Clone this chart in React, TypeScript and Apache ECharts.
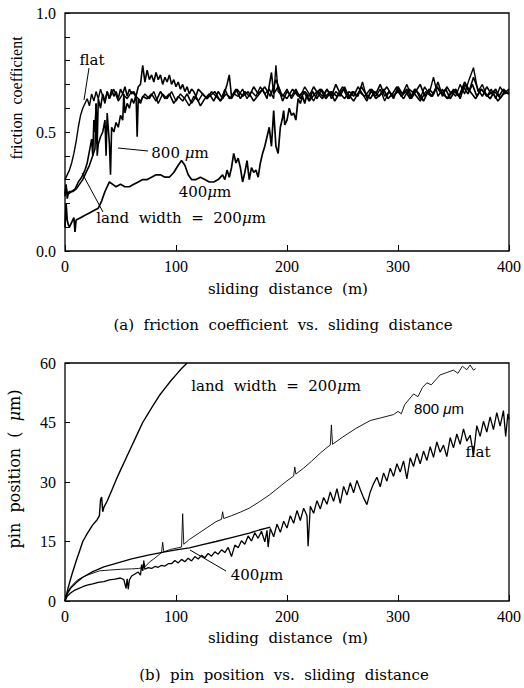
import React, { useEffect, useRef } from 'react';
import * as echarts from 'echarts';

// ---------- data: (a) friction coefficient vs sliding distance ----------
const distanceTicks = [0, 100, 200, 300, 400];
const frictionLabels = [0, 0.5, 1.0];
const pinLabels = [0, 15, 30, 45, 60];

const flatFriction: number[][] = [
  [0,0.30],[2,0.32],[4,0.34],[6,0.37],[8,0.41],[10,0.46],[12,0.52],[14,0.57],[16,0.60],[18,0.62],[20,0.64],[22,0.61],[24,0.66],[26,0.63],[28,0.67],[30,0.64],[32,0.68],[34,0.65],[36,0.62],[38,0.67],[40,0.64],[44,0.68],[48,0.63],[52,0.66],[56,0.64],[60,0.67],[64,0.65],[68,0.63],[72,0.66],[76,0.64],[80,0.67],[84,0.62],[88,0.66],[92,0.64],[96,0.67],[100,0.63],[104,0.66],[108,0.64],[112,0.61],[116,0.65],[120,0.63],[124,0.66],[128,0.64],[132,0.67],[136,0.65],[140,0.63],[144,0.68],[148,0.64],[152,0.66],[156,0.65],[160,0.68],[164,0.64],[168,0.67],[172,0.65],[176,0.69],[180,0.66],[184,0.68],[188,0.64],[190,0.78],[192,0.67],[196,0.65],[200,0.68],[204,0.64],[208,0.67],[212,0.65],[216,0.69],[220,0.66],[224,0.63],[228,0.67],[232,0.65],[236,0.68],[240,0.64],[244,0.67],[248,0.65],[252,0.69],[256,0.64],[260,0.67],[264,0.65],[268,0.71],[272,0.64],[276,0.67],[280,0.65],[284,0.68],[288,0.63],[292,0.67],[296,0.65],[300,0.68],[304,0.66],[308,0.70],[312,0.65],[316,0.68],[320,0.64],[324,0.69],[328,0.66],[332,0.73],[336,0.65],[340,0.68],[344,0.64],[348,0.67],[352,0.65],[356,0.70],[360,0.66],[364,0.72],[368,0.77],[372,0.67],[376,0.70],[380,0.65],[384,0.68],[388,0.64],[392,0.69],[396,0.66],[400,0.67]
];

const w800Friction: number[][] = [
  [0,0.23],[1,0.27],[2,0.24],[4,0.25],[7,0.25],[10,0.26],[13,0.28],[16,0.30],[19,0.33],[22,0.36],[25,0.40],[27,0.43],[28,0.62],[29,0.40],[30,0.45],[32,0.48],[34,0.50],[36,0.55],[37,0.40],[38,0.58],[40,0.45],[41,0.32],[42,0.52],[44,0.50],[46,0.54],[48,0.52],[50,0.57],[52,0.55],[53,0.66],[54,0.58],[56,0.62],[58,0.60],[60,0.64],[62,0.62],[64,0.66],[65,0.48],[66,0.64],[68,0.62],[70,0.65],
  [74,0.64],[78,0.66],[82,0.63],[86,0.67],[90,0.64],[94,0.66],[98,0.62],[102,0.65],[106,0.63],[110,0.66],[114,0.62],[118,0.65],[122,0.61],[126,0.64],[130,0.66],[134,0.63],[138,0.67],[142,0.64],[146,0.70],[148,0.74],[150,0.65],[154,0.68],[158,0.64],[162,0.67],[166,0.65],[170,0.69],[174,0.66],[178,0.68],[182,0.64],[186,0.75],[188,0.66],[192,0.69],[196,0.63],[200,0.67],[204,0.65],[208,0.68],[212,0.64],[216,0.67],[220,0.65],[224,0.69],[228,0.66],[232,0.64],[236,0.68],[240,0.65],[244,0.70],[248,0.66],[252,0.64],[256,0.67],[260,0.65],[264,0.69],[268,0.66],[272,0.63],[276,0.68],[280,0.66],[284,0.70],[288,0.65],[292,0.67],[296,0.64],[300,0.69],[304,0.66],[308,0.68],[312,0.64],[316,0.67],[320,0.70],[324,0.65],[328,0.68],[332,0.66],[336,0.71],[340,0.65],[344,0.69],[348,0.66],[352,0.68],[356,0.64],[360,0.70],[364,0.67],[368,0.73],[372,0.68],[376,0.65],[380,0.69],[384,0.66],[388,0.68],[392,0.64],[396,0.67],[400,0.66]
];

const w200Friction: number[][] = [
  [0,0.24],[1,0.28],[2,0.22],[3,0.24],[6,0.25],[9,0.26],[12,0.29],[15,0.31],[18,0.34],[20,0.37],[22,0.42],[24,0.47],[25,0.40],[26,0.55],[27,0.50],[28,0.62],[29,0.45],[30,0.64],[32,0.60],[34,0.66],[36,0.63],[38,0.67],[40,0.64],[42,0.68],[44,0.65],[46,0.67],[48,0.64],[50,0.68],[52,0.66],[54,0.69],[56,0.65],[58,0.68],[60,0.66],[62,0.67],[64,0.65],[66,0.69],[68,0.70],[70,0.78],[72,0.71],[74,0.76],[76,0.72],[78,0.74],[80,0.71],[82,0.75],[84,0.72],[86,0.74],[88,0.70],[90,0.73],[92,0.71],[94,0.74],[96,0.70],[98,0.72],[100,0.69],[102,0.71],[104,0.68],[106,0.70],[108,0.67],[110,0.69],[112,0.66],[114,0.68],[116,0.67],[118,0.65],[120,0.68],[124,0.66],[128,0.64],
  [130,0.65],[135,0.67],[140,0.63],[145,0.66],[150,0.64],[155,0.68],[160,0.65],[165,0.67],[170,0.63],[175,0.66],[180,0.69],[185,0.65],[190,0.72],[195,0.66],[200,0.64],[205,0.68],[210,0.65],[215,0.67],[220,0.63],[225,0.66],[230,0.68],[235,0.64],[240,0.67],[245,0.65],[250,0.69],[255,0.66],[260,0.63],[265,0.67],[270,0.65],[275,0.68],[280,0.64],[285,0.66],[290,0.69],[295,0.65],[300,0.67],[305,0.64],[310,0.68],[315,0.66],[320,0.63],[325,0.67],[330,0.65],[335,0.69],[340,0.66],[345,0.64],[350,0.68],[355,0.65],[360,0.71],[365,0.67],[370,0.64],[375,0.68],[380,0.65],[385,0.67],[390,0.63],[395,0.66],[400,0.68]
];

const w400Friction: number[][] = [
  [0,0.10],[1,0.20],[2,0.13],[3,0.11],[4,0.10],[6,0.12],[8,0.14],[9,0.08],[10,0.13],[14,0.14],[18,0.15],[22,0.16],[26,0.17],[30,0.18],[33,0.21],[36,0.25],[38,0.27],[40,0.29],[43,0.28],[46,0.27],[50,0.28],[54,0.27],[58,0.27],[62,0.28],[66,0.29],[70,0.30],[74,0.30],[78,0.31],[82,0.32],[86,0.32],[90,0.31],[94,0.31],[98,0.33],[102,0.36],[105,0.38],[108,0.36],[111,0.32],[114,0.30],[118,0.30],[122,0.31],[126,0.30],[130,0.29],[134,0.29],[138,0.30],[142,0.32],[144,0.30],[146,0.34],[148,0.31],[150,0.35],[152,0.41],[154,0.37],[156,0.39],[158,0.35],[160,0.29],[162,0.33],[164,0.38],[166,0.30],[168,0.35],[170,0.33],[172,0.34],[174,0.31],[176,0.37],[178,0.41],[180,0.44],[182,0.48],[184,0.52],[186,0.44],[188,0.59],[190,0.44],[192,0.41],[194,0.52],[196,0.56],[197,0.59],[198,0.53],[200,0.55],[202,0.60],[204,0.57],[206,0.58],[208,0.55],[210,0.64],[212,0.62],[214,0.65],[216,0.62],[218,0.66],[220,0.63],
  [223,0.67],[227,0.64],[231,0.68],[235,0.65],[239,0.67],[243,0.63],[247,0.66],[251,0.68],[255,0.64],[259,0.67],[263,0.65],[267,0.69],[271,0.66],[275,0.64],[279,0.67],[283,0.65],[287,0.68],[291,0.64],[295,0.66],[299,0.69],[303,0.65],[307,0.67],[311,0.64],[315,0.68],[319,0.66],[323,0.63],[327,0.67],[331,0.65],[335,0.69],[339,0.66],[343,0.68],[347,0.64],[351,0.67],[355,0.65],[359,0.69],[363,0.66],[367,0.70],[371,0.65],[375,0.68],[379,0.66],[383,0.64],[387,0.67],[391,0.65],[395,0.68],[399,0.66]
];

// ---------- data: (b) pin position vs sliding distance ----------
const w200Pin: number[][] = [
  [0,0],[3,3.5],[6,6.5],[10,10],[13,12.5],[16,15],[20,17],[25,19.2],[29,20.5],[31,21.5],[32,25.5],[33,26.2],[34,22.5],[35,23.6],[38,25.2],[42,27.8],[46,30.5],[50,33],[55,36],[60,39],[65,42],[70,45],[75,47.3],[80,49.6],[85,51.8],[90,53.6],[95,55.4],[100,57],[105,58.6],[110,60]
];

const w800Pin: number[][] = [
  [0,0],[2,2],[5,3.5],[10,5],[13,5.6],[20,6.5],[31,7.6],[40,7.8],[50,8],[60,8.1],[66,8.2],[70,8.4],[71,10.2],[72,8.6],[76,9.8],[80,10.6],[84,11.5],[87,12.2],[88,14.8],[89,12.4],[95,13],[100,13.3],[105,13.6],[106,22],[107,14.3],[112,15.5],[120,17],[128,18.5],[136,20],[141,20.6],[142,22.5],[143,20.8],[150,21.5],[158,22.4],[166,23.4],[175,25],[184,26.7],[192,28.5],[200,30.3],[206,31.5],[207,33.8],[208,32],[215,33.5],[222,35.2],[230,37.3],[236,38.7],[239,39.3],[240,44.4],[241,39.5],[250,41.3],[262,43.5],[275,45.5],[285,46.2],[296,47],[300,47.8],[303,47.2],[306,49.5],[314,52.2],[318,51.5],[322,53.8],[326,55],[330,54.5],[338,57],[344,57.6],[350,58.2],[354,57.4],[358,59.2],[362,58.3],[365,59.5],[368,58.2],[370,58.6]
];

const w400Pin: number[][] = [
  [0,0],[2,1.8],[5,3.2],[10,4.6],[16,6.0],[25,7.4],[35,8.6],[46,9.5],[60,10.6],[76,11.6],[90,12.4],[100,12.9],[112,13.4],[124,14.2],[136,15.0],[150,16.0],[166,17.1],[175,17.9],[185,18.6]
];

const flatPin: number[][] = [
  [0,0],[2,1.2],[5,2.0],[8,2.6],[12,3.1],[16,3.6],[20,4.0],[25,4.3],[30,4.7],[35,4.9],[40,5.3],[45,5.5],[50,5.8],[53,5.4],[55,3.2],[56,5.6],[57,3.0],[58,5.3],[60,6.3],[63,6.8],[66,7.3],[68,6.5],[69,9.2],[70,7.6],[71,9.5],[72,8.0],[75,8.4],[78,8.2],[81,8.7],[84,8.5],[87,9.0],[90,8.8],[93,9.4],
  [96,9.4],[99,10.2],[102,9.6],[105,10.5],[108,9.9],[111,10.8],[114,10.1],[117,11.2],[120,10.6],[123,11.5],[126,10.9],[129,12.0],[132,11.3],[135,12.4],[138,11.8],[141,12.9],[144,12.2],[147,13.5],[150,11.2],[153,14.1],[156,13.4],[159,15.2],[162,14.3],[165,16.4],[168,15.1],[171,17.2],[174,15.8],[177,17.6],[180,14.9],[182,17.8],[183,13.6],[185,18.3],[188,16.2],[191,19.4],[194,17.3],[197,20.1],[200,18.4],[203,21.5],[206,19.6],[209,22.8],[212,20.3],[215,23.4],[218,21.5],[219,13.8],[221,23.9],[224,22.1],[227,25.3],[230,23.2],[233,26.1],[236,24.4],[239,27.5],[242,25.1],[245,28.3],[248,24.6],[251,28.9],[254,26.7],[257,29.8],[260,27.3],[263,30.4],[266,28.1],[269,26.0],[272,24.3],[275,27.5],[278,29.6],[281,31.2],[284,28.8],[287,32.3],[290,30.2],[293,33.5],[296,31.4],[299,34.6],[302,32.5],[305,35.3],[308,30.8],[311,36.1],[314,33.9],[317,37.2],[320,34.6],[323,37.8],[326,35.4],[329,38.9],[332,36.2],[335,40.1],[338,37.5],[341,39.3],[344,36.4],[347,41.2],[350,38.6],[353,42.1],[356,39.5],[359,43.4],[362,40.3],[365,41.8],[368,36.9],[371,44.2],[374,41.5],[377,45.3],[380,42.6],[383,46.4],[386,43.2],[389,47.5],[392,44.1],[395,48.0],[397,41.5],[399,47.2],[400,45.8]
];

const SERIF = '"DejaVu Serif", serif';
const TICKFONT = '"Liberation Serif", serif';

function mu(prefix: string, size: number, family = SERIF, suffix = 'm') {
  return {
    text: `{a|${prefix}}{b|μ}{a|${suffix}}`,
    rich: {
      a: { fontFamily: family, fontSize: size, fill: '#000' },
      b: { fontFamily: family, fontSize: size, fontStyle: 'italic', fill: '#000' },
    },
  };
}

function buildOption() {
  const axisCommonX = (gridIndex: number) => ({
    type: 'value',
    gridIndex,
    min: 0,
    max: 400,
    interval: 100,
    axisLine: { show: false },
    axisTick: { show: true, inside: true, length: 6, lineStyle: { color: '#000', width: 1 } },
    axisLabel: {
      color: '#000', fontFamily: TICKFONT, fontSize: 16, margin: 7,
      formatter: (v: number) => (distanceTicks.includes(v) ? String(v) : ''),
    },
    splitLine: { show: false },
  });
  const lineSeries = (data: number[][], idx: number, width: number) => ({
    type: 'line',
    xAxisIndex: idx,
    yAxisIndex: idx,
    data,
    showSymbol: false,
    symbol: 'none',
    silent: true,
    lineStyle: { color: '#000', width },
  });
  const txt = (x: number, y: number, style: any, extra: any = {}) => ({
    type: 'text', x, y, silent: true, ...extra,
    style: { fill: '#000', align: 'center', verticalAlign: 'middle', ...style },
  });
  const seg = (x1: number, y1: number, x2: number, y2: number) => ({
    type: 'line', silent: true,
    shape: { x1, y1, x2, y2 },
    style: { stroke: '#000', lineWidth: 1 },
  });

  return {
    animation: false,
    backgroundColor: '#fff',
    grid: [
      { left: 65, top: 13, width: 446, height: 238, show: true, borderColor: '#000', borderWidth: 1.3, backgroundColor: 'transparent' },
      { left: 65, top: 363, width: 446, height: 238, show: true, borderColor: '#000', borderWidth: 1.3, backgroundColor: 'transparent' },
    ],
    xAxis: [axisCommonX(0), axisCommonX(1)],
    yAxis: [
      {
        type: 'value', gridIndex: 0, min: 0, max: 1, interval: 0.1,
        axisLine: { show: false },
        axisTick: { show: true, inside: true, length: 5, lineStyle: { color: '#000' } },
        axisLabel: {
          color: '#000', fontFamily: TICKFONT, fontSize: 16, margin: 9,
          formatter: (v: number) => {
            const hit = frictionLabels.find((t) => Math.abs(t - v) < 1e-6);
            return hit === undefined ? '' : hit.toFixed(1);
          },
        },
        splitLine: { show: false },
      },
      {
        type: 'value', gridIndex: 1, min: 0, max: 60, interval: 15,
        axisLine: { show: false },
        axisTick: { show: true, inside: true, length: 5, lineStyle: { color: '#000' } },
        axisLabel: {
          color: '#000', fontFamily: TICKFONT, fontSize: 16, margin: 9,
          formatter: (v: number) => (pinLabels.includes(v) ? String(v) : ''),
        },
        splitLine: { show: false },
      },
    ],
    series: [
      lineSeries(w400Friction, 0, 1.7),
      lineSeries(w800Friction, 0, 1.6),
      lineSeries(w200Friction, 0, 1.6),
      lineSeries(flatFriction, 0, 1.4),
      lineSeries(w200Pin, 1, 1.4),
      lineSeries(w800Pin, 1, 0.9),
      lineSeries(w400Pin, 1, 1.3),
      lineSeries(flatPin, 1, 1.3),
    ],
    graphic: [
      // axis names & captions
      txt(16, 98, { text: 'friction  coefficient', fontFamily: TICKFONT, fontSize: 16 }, { rotation: Math.PI / 2 }),
      txt(288, 289, { text: 'sliding  distance  (m)', fontFamily: SERIF, fontSize: 15 }),
      txt(283, 325, { text: '(a)  friction  coefficient  vs.  sliding  distance', fontFamily: SERIF, fontSize: 15 }),
      txt(14, 469, mu('pin  position  (  ', 16, SERIF, 'm)'), { rotation: Math.PI / 2 }),
      txt(288, 638, { text: 'sliding  distance  (m)', fontFamily: SERIF, fontSize: 15 }),
      txt(284, 675, { text: '(b)  pin  position  vs.  sliding  distance', fontFamily: SERIF, fontSize: 15 }),
      // top annotations
      txt(92, 60, { text: 'flat', fontFamily: SERIF, fontSize: 15 }),
      seg(89, 68, 84, 100),
      txt(180, 153, mu('800 ', 15)),
      seg(118, 148, 148, 151),
      txt(205, 192, mu('400', 15)),
      txt(181, 218, mu('land  width  =  200', 15)),
      seg(103, 212, 82, 173),
      // bottom annotations
      txt(276, 386, mu('land  width  =  200', 15)),
      txt(439, 408, mu('800 ', 15, '"Liberation Sans", sans-serif')),
      txt(478, 452, { text: 'flat', fontFamily: SERIF, fontSize: 15 }),
      txt(257, 575, mu('400', 15)),
      seg(190, 550, 226, 571),
    ],
  };
}

export default function App() {
  const ref = useRef<HTMLDivElement>(null);
  useEffect(() => {
    if (!ref.current) return;
    const chart = echarts.init(ref.current, null, { renderer: 'svg' });
    chart.setOption(buildOption() as any);
    return () => chart.dispose();
  }, []);
  return (
    <div
      ref={ref}
      style={{ position: 'fixed', left: 0, top: 0, width: 524, height: 688, background: '#fff' }}
    />
  );
}
